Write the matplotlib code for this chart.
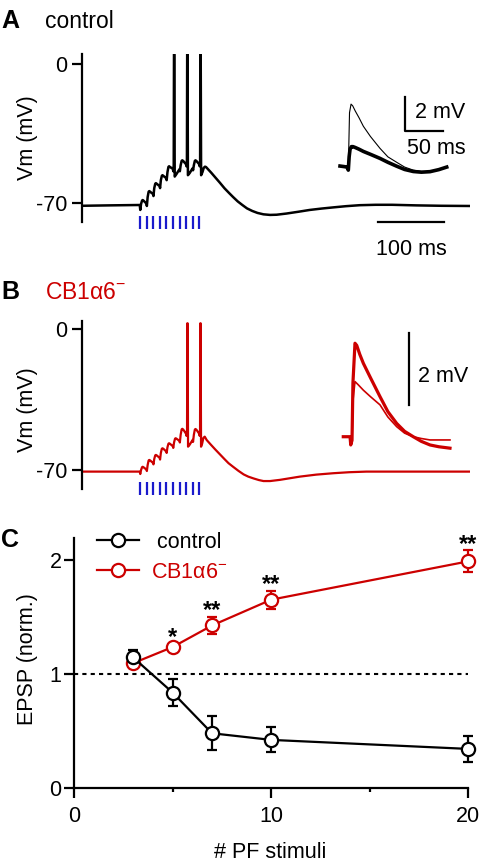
import numpy as np
import matplotlib.pyplot as plt

plt.rcParams['font.family'] = ['Liberation Sans', 'DejaVu Sans']
plt.rcParams['font.size'] = 15.5
plt.rcParams['mathtext.fontset'] = 'custom'
plt.rcParams['mathtext.rm'] = 'Liberation Sans'

W, H = 480, 868
RED = '#cc0000'
BLUE = '#1a1acc'
FS = 15.5
KO_LABEL = r'CB1α6$^{\mathrm{-}}$'

# ---- data ----
# PF stimulus times (ms), 10 stimuli
stim_t = [88, 98, 108, 118, 128, 138, 148, 158, 168, 178]

# control whole-cell trace (ms, mV)
ctrl_t = [0, 40, 87.5,
          88.3, 89.5, 91, 92, 93.5, 97.7,
          98.3, 99.5, 101, 102, 103.5, 107.7,
          108.3, 109.5, 111, 112, 113.5, 117.7,
          118.3, 119.5, 121, 122, 123.5, 127.7,
          128.3, 129.5, 131, 132, 133.5, 137.7,
          138.3, 139.0, 139.4, 139.9, 140.5, 143, 147.7,
          148.3, 149.5, 151, 152, 153.5, 157.7,
          158.3, 159.0, 159.4, 159.9, 160.5, 163, 167.7,
          168.3, 169.5, 171, 172, 173.5, 177.7,
          178.3, 179.0, 179.4, 179.9, 180.5, 182.5, 184.5, 186.4, 188,
          196, 203, 209, 216, 223, 229, 236, 243, 250, 258, 266, 275, 285,
          295, 310, 328, 345, 363, 381, 400, 421, 445, 470, 507, 545, 588]
ctrl_v = [-71.4, -71.2, -71.0,
          -73.5, -70.5, -68.8, -68.5, -68.9, -70.3,
          -71.5, -67.0, -64.3, -64.0, -64.4, -65.5,
          -66.5, -62.5, -60.3, -60.0, -60.4, -61.5,
          -62.5, -58.5, -56.3, -56.0, -56.4, -57.5,
          -58.5, -54.5, -51.8, -51.5, -51.9, -52.8,
          -54.0, -51.0, 5, 5, -56.7, -55.5, -53.0,
          -54.0, -51.0, -48.8, -48.5, -48.9, -50.5,
          -51.5, -49.0, 5, 5, -56.0, -55.0, -52.5,
          -53.5, -51.0, -48.8, -48.5, -48.9, -50.5,
          -51.5, -49.0, 5, 5, -56.0, -54.5, -52.3, -51.7, -51.9,
          -54.8, -57.5, -59.8, -62.6, -65.0, -67.0, -69.2, -71.0, -72.7,
          -74.0, -75.0, -75.7, -76.0, -75.9, -75.3, -74.4, -73.5, -72.8,
          -72.2, -71.6, -71.1, -70.9, -70.9, -71.2, -71.4, -71.5]

# CB1a6- whole-cell trace (ms, mV)
ko_t = [0, 87.5,
        88.3, 89.5, 91, 92, 93.5, 97.7,
        98.3, 99.5, 101, 102, 103.5, 107.7,
        108.3, 109.5, 111, 112, 113.5, 117.7,
        118.3, 119.5, 121, 122, 123.5, 127.7,
        128.3, 129.5, 131, 132, 133.5, 137.7,
        138.3, 139.5, 141, 142, 143.5, 147.7,
        148.3, 149.5, 151, 152, 153.5, 157.7,
        158.3, 159.2, 159.6, 160.1, 160.7, 163, 167.7,
        168.3, 169.5, 171, 172, 173.5, 177.7,
        178.3, 178.9, 179.3, 179.8, 180.4, 182, 184, 186,
        189, 195, 202, 209, 216, 222, 229, 237, 245, 252, 260, 268, 275,
        285, 300, 315, 330, 355, 381, 405, 431, 588]
ko_v = [-70.8, -70.8,
        -72.0, -70.0, -68.6, -68.4, -68.7, -69.8,
        -70.5, -67.5, -65.2, -65.0, -65.3, -66.5,
        -67.2, -64.5, -62.7, -62.5, -62.8, -64.0,
        -64.8, -61.5, -59.4, -59.2, -59.5, -60.8,
        -61.5, -58.7, -56.9, -56.7, -57.0, -58.2,
        -59.0, -56.3, -54.4, -54.2, -54.5, -55.5,
        -56.3, -52.5, -49.8, -49.5, -49.9, -52.0,
        -53.0, -50.0, 3, 3, -58.4, -57.5, -55.0,
        -56.0, -52.5, -49.9, -49.6, -50.0, -52.0,
        -53.0, -50.0, 3, 3, -58.4, -57.0, -54.0, -53.4,
        -55.1, -57.3, -59.8, -62.2, -64.6, -66.6, -68.4, -70.4, -72.2,
        -73.3, -74.2, -75.0, -75.5, -75.5, -74.9, -74.1, -73.3, -72.3,
        -71.6, -71.1, -70.8, -70.8]

# inset EPSPs (ms, mV relative to baseline)
insA_thick_t = [0, 5, 9.2, 10.9, 12, 13.2, 15, 17, 20, 25, 30.7, 40, 52.6,
                63, 74.6, 85, 96.4, 107, 118.4, 130, 140.4]
insA_thick_v = [0.06, 0.03, 0, -0.18, 0.6, 1.05, 1.2, 1.2, 1.15, 1.05, 0.92,
                0.75, 0.51, 0.28, 0.05, -0.14, -0.26, -0.3, -0.27, -0.15, 0.0]
insA_thin_t = [9.2, 10.9, 12.5, 14.5, 16.7, 20, 25, 30.7, 40, 52.6, 63, 74.6,
               85, 96.4, 107, 118.4]
insA_thin_v = [0, -0.18, 3.2, 3.7, 3.6, 3.3, 2.9, 2.4, 1.8, 1.1, 0.6, 0.28,
               0.0, -0.18, -0.26, -0.27]

insB_thick_t = [4.3, 13.2, 14.1, 15.8, 17, 19.7, 22, 26, 30.7, 40, 52.6, 63,
                74.6, 85, 96.4, 107, 118.4, 130, 144.7]
insB_thick_v = [0, 0, -0.23, -0.1, 1.5, 2.61, 2.55, 2.3, 2.05, 1.65, 1.12,
                0.7, 0.37, 0.15, 0, -0.13, -0.23, -0.28, -0.32]
insB_thin_t = [4.3, 13.2, 14.1, 15.8, 17, 19.7, 24, 30.7, 40, 52.6, 63, 74.6,
               85, 96.4, 107, 118.4, 144.7]
insB_thin_v = [0, 0, -0.23, -0.1, 1.0, 1.54, 1.45, 1.3, 1.12, 0.89, 0.55,
               0.28, 0.1, 0, -0.05, -0.09, -0.09]

# panel C
n_stim = [3, 5, 7, 10, 20]
ctrl_mean = [1.146, 0.839, 0.482, 0.424, 0.345]
ctrl_err = [0.065, 0.12, 0.15, 0.11, 0.117]
ko_mean = [1.096, 1.237, 1.426, 1.652, 1.988]
ko_err = [0.04, 0.03, 0.075, 0.08, 0.095]
sig_x = [5, 7, 10, 20]
sig_lab = ['*', '**', '**', '**']

fig = plt.figure(figsize=(W / 100, H / 100), dpi=100)


def px_axes(l, t, r, b):
    return fig.add_axes([l / W, 1 - b / H, (r - l) / W, (b - t) / H])


def ftext(x, y, s, **kw):
    fig.text(x / W, 1 - y / H, s, **kw)


def trace_axes(top, bot, ylim, spine, color, tr_t, tr_v, stim_lo, stim_hi, lw):
    ax = px_axes(82, top, 470, bot)
    ax.plot(tr_t, tr_v, color=color, lw=lw, solid_joinstyle='round')
    ax.vlines(stim_t, stim_lo, stim_hi, color=BLUE, lw=1.6)
    ax.set_xlim(0, 588)
    ax.set_ylim(*ylim)
    for s in ['top', 'right', 'bottom']:
        ax.spines[s].set_visible(False)
    ax.spines['left'].set_bounds(*spine)
    ax.spines['left'].set_linewidth(1.6)
    ax.set_xticks([])
    ax.set_yticks([0, -70])
    ax.set_yticklabels(['0', '-70'])
    ax.tick_params(axis='y', length=7.5, width=1.6, pad=3, labelsize=FS)
    ax.patch.set_alpha(0)
    return ax


# ---- panel A ----
axA = trace_axes(54, 232, (-84.6, 5.03), (-79.6, 5.03), 'black',
                 ctrl_t, ctrl_v, -76.5, -83.1, 1.8)
axA.plot([448.5, 548.5], [-79.6, -79.6], color='black', lw=1.6, clip_on=False)
axA.text(498.5, -93.2, '100 ms', ha='center', va='center', fontsize=FS)

insA = px_axes(335, 90, 455, 180)
insA.plot(insA_thin_t, insA_thin_v, color='black', lw=0.8, solid_joinstyle='round')
insA.plot(insA_thick_t, insA_thick_v, color='black', lw=2.6, solid_joinstyle='round')
insA.plot([85.5, 85.5, 135.5], [4.12, 2.12, 2.12], color='black', lw=1.6, clip_on=False)
insA.text(98.7, 3.18, '2 mV', ha='left', va='center', fontsize=FS)
insA.text(87.8, 1.12, '50 ms', ha='left', va='center', fontsize=FS)
insA.set_xlim(-6.6, 151.3)
insA.set_ylim(-0.76, 4.53)
insA.axis('off')

ftext(1, 28.5, 'A', fontsize=18, fontweight='bold', va='baseline')
ftext(45, 28.5, 'control', fontsize=16.5, va='baseline')
ftext(27, 138, 'Vm (mV)', rotation=90, ha='center', va='center', fontsize=FS)

# ---- panel B ----
axB = trace_axes(321, 498, (-83.93, 4.13), (-79.5, 4.13), RED,
                 ko_t, ko_v, -75.8, -82.5, 1.6)

insB = px_axes(335, 330, 455, 460)
insB.plot(insB_thin_t, insB_thin_v, color=RED, lw=1.2, solid_joinstyle='round')
insB.plot(insB_thick_t, insB_thick_v, color=RED, lw=2.3, solid_joinstyle='round')
insB.plot([91.2, 91.2], [0.89, 2.89], color='black', lw=1.6, clip_on=False)
insB.text(103, 1.68, '2 mV', ha='left', va='center', fontsize=FS)
insB.set_xlim(-6.6, 151.3)
insB.set_ylim(-0.65, 2.98)
insB.axis('off')

ftext(1, 299, 'B', fontsize=18, fontweight='bold', va='baseline')
ftext(45, 299, KO_LABEL, fontsize=16.5, va='baseline', color=RED)
ftext(27, 410, 'Vm (mV)', rotation=90, ha='center', va='center', fontsize=FS)

# ---- panel C ----
axC = px_axes(74, 537.7, 468.3, 788.3)
axC.axhline(1, color='black', lw=1.5, ls=(0, (2, 2)), zorder=1)
handles = []
for mean, err, col in [(ko_mean, ko_err, RED), (ctrl_mean, ctrl_err, 'black')]:
    eb = axC.errorbar(n_stim, mean, yerr=err, fmt='o-', color=col, mfc='white',
                      mec=col, ms=9.5, mew=1.6, lw=1.6, elinewidth=1.6,
                      capsize=3.6, capthick=1.6, zorder=3)
    for art in [eb[0], *eb[1], *eb[2]]:
        art.set_clip_on(False)
    handles.append(eb[0])

for x, lab in zip(sig_x, sig_lab):
    i = n_stim.index(x)
    axC.text(x, ko_mean[i] + ko_err[i] - 0.005, lab, ha='center', va='baseline',
             fontsize=17, fontweight='bold')

axC.set_xlim(0, 20)
axC.set_ylim(0, 2.195)
axC.set_xticks([0, 10, 20])
axC.set_xticks([5, 15], minor=True)
axC.set_yticks([0, 1, 2])
for s in ['top', 'right']:
    axC.spines[s].set_visible(False)
for s in ['left', 'bottom']:
    axC.spines[s].set_linewidth(1.6)
axC.tick_params(axis='both', which='major', length=7.5, width=1.6, labelsize=FS)
axC.tick_params(axis='x', which='major', pad=5.5)
axC.tick_params(axis='y', which='major', pad=1.5)
axC.tick_params(axis='x', which='minor', length=3, width=1.6)
axC.patch.set_alpha(0)

leg = axC.legend(handles[::-1], [' control', KO_LABEL], loc='upper left',
                 bbox_to_anchor=(97 / W, 1 - 532 / H), bbox_transform=fig.transFigure,
                 frameon=False, handlelength=1.95, handletextpad=0.55,
                 labelspacing=0.4, borderpad=0, borderaxespad=0,
                 labelcolor='linecolor', fontsize=FS)

ftext(1, 546.7, 'C', fontsize=18, fontweight='bold', va='baseline')
ftext(270, 852, '# PF stimuli', ha='center', va='center', fontsize=FS)
ftext(27, 659, 'EPSP (norm.)', rotation=90, ha='center', va='center', fontsize=FS)

fig.savefig('out.png', dpi=100)
